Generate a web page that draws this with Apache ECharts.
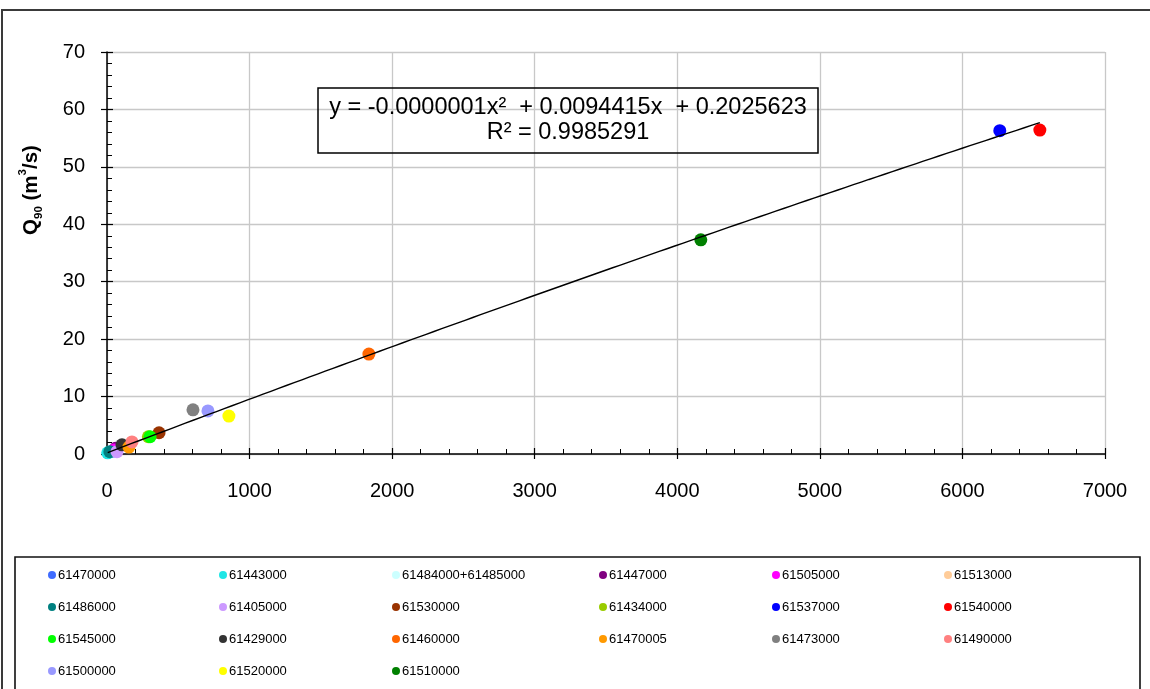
<!DOCTYPE html>
<html>
<head>
<meta charset="utf-8">
<script src="https://cdn.jsdelivr.net/npm/echarts@6/dist/echarts.min.js"></script>
<style>
  html, body { margin: 0; padding: 0; background: #fff; }
  #chart { width: 1150px; height: 689px; }
</style>
</head>
<body>
<div id="chart"></div>
<script>
// Gauging stations (legend order, row by row)
const stations = [
  '61470000', '61443000', '61484000+61485000', '61447000', '61505000', '61513000',
  '61486000', '61405000', '61530000', '61434000', '61537000', '61540000',
  '61545000', '61429000', '61460000', '61470005', '61473000', '61490000',
  '61500000', '61520000', '61510000'
];
const stationColors = [
  '#3f6cff', '#1fe6e6', '#ccffff', '#800080', '#ff00ff', '#ffcc99',
  '#008080', '#cc99ff', '#993300', '#99cc00', '#0000ff', '#ff0000',
  '#00ff00', '#333333', '#ff6600', '#ff9900', '#808080', '#ff8080',
  '#9999ff', '#ffff00', '#008000'
];
// Drainage area (x) and Q90 discharge (y, m³/s) per station
const areaValues = [
  40, 5, 30, 60, 50, 150,
  20, 70, 365, 290, 6262, 6543,
  302, 105, 1837, 154, 603, 175,
  708, 855, 4165
];
const q90Values = [
  0.5, 0.2, 0.5, 1.0, 0.7, 1.5,
  0.4, 0.4, 3.7, 3.0, 56.3, 56.4,
  3.0, 1.6, 17.4, 1.2, 7.7, 2.1,
  7.5, 6.6, 37.3
];
// Polynomial trendline coefficients: y = a x² + b x + c
const trendCoef = [-0.0000001, 0.0094415, 0.2025623];
const trendR2 = 0.9985291;
const xTicks = { min: 0, max: 7000, interval: 1000 };
const yTicks = { min: 0, max: 70, interval: 10 };

const font = "'Liberation Sans', Arial, sans-serif";

const trendData = [];
{
  const xMin = Math.min(...areaValues), xMax = Math.max(...areaValues);
  const steps = 120;
  for (let i = 0; i <= steps; i++) {
    const x = xMin + (xMax - xMin) * i / steps;
    trendData.push([x, trendCoef[0] * x * x + trendCoef[1] * x + trendCoef[2]]);
  }
}

const series = stations.map((name, i) => ({
  name: name,
  type: 'scatter',
  symbol: 'circle',
  symbolSize: 13,
  itemStyle: { color: stationColors[i], opacity: 1 },
  data: [[areaValues[i], q90Values[i]]],
  z: 2
}));
series.push({
  name: 'trend',
  type: 'line',
  showSymbol: false,
  symbol: 'none',
  smooth: false,
  lineStyle: { color: '#000', width: 1.4 },
  data: trendData,
  z: 5,
  silent: true
});

const colLeft = [48, 219, 392, 599, 772, 944];
const legends = colLeft.map((left, c) => ({
  orient: 'vertical',
  left: left,
  top: 568,
  itemGap: 18,
  itemWidth: 8,
  itemHeight: 8,
  icon: 'circle',
  selectedMode: false,
  padding: 0,
  textStyle: { fontFamily: font, fontSize: 13, color: '#000', lineHeight: 14, padding: [0, 0, 0, -3] },
  data: stations.filter((_, i) => i % 6 === c)
}));

const fmt = v => v.toFixed(7);
const eqLine1 = 'y = ' + (trendCoef[0] < 0 ? '-' : '') + fmt(Math.abs(trendCoef[0])) + 'x²  + ' +
  fmt(trendCoef[1]) + 'x  + ' + fmt(trendCoef[2]);
const eqLine2 = 'R² = ' + fmt(trendR2);

const axisLabelStyle = { fontFamily: font, fontSize: 20, color: '#000', formatter: v => String(v) };

const option = {
  animation: false,
  backgroundColor: '#fff',
  grid: { left: 107, right: 45, top: 52, bottom: 235, containLabel: false },
  legend: legends,
  xAxis: [
    {
      type: 'value', min: xTicks.min, max: xTicks.max, interval: xTicks.interval,
      axisLine: { show: true, onZero: false, lineStyle: { color: '#000', width: 1.5 } },
      axisTick: { show: true, inside: false, length: 5, lineStyle: { color: '#000', width: 1.2 } },
      axisLabel: { ...axisLabelStyle, margin: 27 },
      splitLine: { show: true, lineStyle: { color: '#c8c8c8', width: 1.3 } }
    },
    {
      type: 'value', min: xTicks.min, max: xTicks.max, interval: xTicks.interval,
      position: 'bottom',
      axisLine: { show: false, onZero: false },
      axisTick: { show: true, inside: true, length: 6, lineStyle: { color: '#000', width: 1.2 } },
      minorTick: { show: true, splitNumber: 5, length: 5, lineStyle: { color: '#000', width: 1 } },
      axisLabel: { show: false },
      splitLine: { show: false }
    }
  ],
  yAxis: [
    {
      type: 'value', min: yTicks.min, max: yTicks.max, interval: yTicks.interval,
      axisLine: { show: true, onZero: false, lineStyle: { color: '#000', width: 1.5 } },
      axisTick: { show: true, inside: false, length: 6, lineStyle: { color: '#000', width: 1.2 } },
      axisLabel: { ...axisLabelStyle, margin: 22 },
      splitLine: { show: true, lineStyle: { color: '#c8c8c8', width: 1.3 } }
    },
    {
      type: 'value', min: yTicks.min, max: yTicks.max, interval: yTicks.interval,
      position: 'left',
      axisLine: { show: false, onZero: false },
      axisTick: { show: true, inside: true, length: 6, lineStyle: { color: '#000', width: 1.2 } },
      minorTick: { show: true, splitNumber: 5, length: 5, lineStyle: { color: '#000', width: 1 } },
      axisLabel: { show: false },
      splitLine: { show: false }
    }
  ],
  graphic: [
    {
      type: 'rect', z: 100,
      shape: { x: 2, y: 10, width: 1300, height: 900 },
      style: { fill: 'none', stroke: '#3a3a3a', lineWidth: 2 }
    },
    {
      type: 'rect', z: 100,
      shape: { x: 15, y: 557, width: 1125, height: 300 },
      style: { fill: 'none', stroke: '#111', lineWidth: 1.6 }
    },
    {
      type: 'rect', z: 100,
      shape: { x: 318, y: 88, width: 500, height: 65 },
      style: { fill: 'none', stroke: '#000', lineWidth: 1.5 }
    },
    {
      type: 'text', z: 101,
      x: 568, y: 95,
      style: {
        text: eqLine1 + '\n' + eqLine2,
        fontFamily: font, fontSize: 23.5, fill: '#000',
        textAlign: 'center', lineHeight: 25
      }
    },
    {
      // Y-axis title: Q90 (m³/s)
      type: 'text', z: 101,
      x: 31, y: 190,
      rotation: Math.PI / 2,
      style: {
        text: '{b|Q}{s|90}{b| (m}{p|3}{b|/s)}',
        textAlign: 'center', textVerticalAlign: 'middle',
        fill: '#000',
        rich: {
          b: { fontFamily: font, fontWeight: 'bold', fontSize: 20.5, fill: '#000', lineHeight: 24 },
          s: { fontFamily: font, fontWeight: 'bold', fontSize: 11.5, fill: '#000', verticalAlign: 'bottom', lineHeight: 17 },
          p: { fontFamily: font, fontWeight: 'bold', fontSize: 11.5, fill: '#000', verticalAlign: 'top', lineHeight: 28 }
        }
      }
    }
  ],
  series: series
};

const chart = echarts.init(document.getElementById('chart'), null, { renderer: 'canvas' });
chart.setOption(option);
</script>
</body>
</html>
